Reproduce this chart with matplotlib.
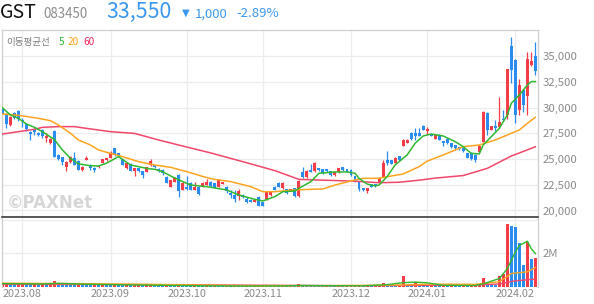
import matplotlib
matplotlib.use('Agg')
import matplotlib.pyplot as plt
import numpy as np

plt.rcParams['font.family'] = ['Noto Sans CJK KR', 'DejaVu Sans']

# ---------------- data ----------------
opens = [
    29900, 29300, 28300, 29500, 29700, 28850, 28400, 27650, 27800, 27550,
    27850, 27100, 26600, 27750, 25400, 25200, 24250, 24700, 25150, 24850,
    23900, 24950, 24450, 24150, 24200, 24650, 24900, 25150, 26050, 25550,
    25000, 24100, 24550, 23800, 24100, 23800, 23750, 24400, 24400, 24050,
    23950, 23300, 22300, 22800, 23500, 22000, 22300, 22700, 22000, 22300,
    22300, 22500, 22800, 22650, 22300, 22600, 22300, 21750, 21500, 21400,
    21500, 21100, 21050, 20850, 21350, 20800, 21100, 21500, 22300, 22650,
    22150, 22050, 21900, 22150, 21400, 23750, 23250, 23900, 23800, 24100,
    24000, 24000, 23800, 23450, 23700, 24200, 24000, 23950, 23350, 22800,
    22150, 21850, 22550, 22550, 22800, 23300, 24900, 24900, 24650, 25300,
    26300, 26600, 27550, 27500, 27550, 28250, 27750, 27400, 27000, 27350,
    26750, 27000, 26550, 26350, 26150, 26050, 25550, 25600, 25400, 25700,
    26700, 29450, 27850, 28200, 28150, 28950, 29300, 36000, 34650, 29750,
    31700, 31100, 34150, 35000]
highs = [
    30100, 29500, 29200, 29600, 29800, 29000, 28500, 27700, 28000, 27600,
    27900, 27500, 27050, 27800, 25450, 25250, 24800, 25300, 25700, 24900,
    24300, 25300, 24500, 24200, 24350, 25050, 25150, 25800, 26100, 25600,
    25050, 24650, 24600, 24150, 24150, 23850, 24250, 25000, 24450, 24100,
    24000, 23350, 23000, 23250, 23550, 22750, 23400, 22750, 22800, 22350,
    22750, 23100, 22850, 22700, 23100, 22800, 22350, 22000, 22000, 22050,
    21600, 21350, 21100, 21100, 21400, 20850, 21900, 21900, 22350, 22800,
    22750, 22100, 22100, 22200, 22950, 24250, 23900, 24550, 24750, 24150,
    24050, 24050, 23850, 23750, 24150, 24250, 24050, 24000, 23400, 22850,
    22200, 22200, 22600, 22600, 23250, 24900, 25800, 24950, 25200, 25350,
    26950, 26950, 27600, 28000, 28000, 28350, 28100, 27450, 27400, 27400,
    26800, 27050, 26600, 26400, 26200, 26100, 25600, 25650, 25450, 26350,
    29650, 29600, 28250, 28800, 31000, 29800, 33800, 36850, 34700, 32800,
    31750, 35400, 35450, 36400]
lows = [
    29250, 28000, 28200, 28900, 28700, 28150, 27700, 26900, 27300, 27200,
    27100, 26700, 26500, 25200, 24900, 24450, 23800, 24600, 24400, 23900,
    23850, 24900, 23900, 23750, 24150, 24600, 24850, 25100, 25300, 25300,
    24400, 24050, 23800, 23350, 23750, 23150, 23700, 24350, 24100, 23750,
    23500, 22650, 22250, 22750, 21350, 21950, 21950, 21950, 21950, 21550,
    22250, 22450, 22300, 22150, 22250, 22550, 21700, 21200, 20850, 21000,
    21250, 20750, 20800, 20800, 20400, 20400, 21050, 21450, 21950, 22250,
    22100, 21650, 21850, 21350, 21350, 23200, 23200, 23700, 23750, 23850,
    23550, 23750, 23400, 23400, 23650, 23850, 23700, 23400, 22750, 21900,
    21900, 21700, 22250, 22300, 22750, 23250, 24400, 24500, 24600, 24850,
    26250, 26550, 26900, 26900, 27200, 27800, 27450, 27200, 26950, 26850,
    26300, 26500, 26100, 26000, 25900, 25700, 25100, 24950, 24750, 25650,
    26650, 27300, 27800, 27750, 28100, 28750, 28950, 32400, 28500, 29300,
    29600, 29300, 34100, 33200]
closes = [
    29350, 28400, 29100, 29000, 28950, 28700, 27900, 27450, 27600, 27300,
    27250, 27250, 27000, 25250, 25000, 24750, 24750, 25200, 24450, 23950,
    24250, 25100, 24100, 23950, 24300, 25000, 25100, 25600, 25400, 25400,
    24450, 24600, 23850, 24100, 23800, 23500, 24200, 24800, 24200, 23800,
    23600, 22700, 22950, 23200, 21850, 22700, 22050, 22000, 22300, 21600,
    22700, 22800, 22350, 22200, 22950, 22750, 21850, 21500, 21100, 21900,
    21300, 20800, 20850, 21050, 20450, 20450, 21850, 21850, 22000, 22300,
    22700, 21700, 22050, 21400, 22900, 23250, 23850, 23750, 24650, 23900,
    23600, 23800, 23450, 23700, 24100, 23900, 23750, 23450, 22800, 22050,
    21950, 22150, 22300, 22350, 23200, 24650, 24650, 24550, 25150, 24900,
    26900, 26900, 26950, 27200, 27250, 27850, 27950, 27250, 27350, 26900,
    26600, 26550, 26150, 26050, 25950, 25750, 25150, 25000, 24950, 26300,
    29600, 27850, 28200, 28000, 28650, 28800, 33750, 33650, 29300, 32200,
    30250, 34700, 34550, 33550]
volumes_k = [
    180, 250, 200, 160, 170, 200, 180, 150, 160, 140, 170, 150, 160, 350,
    200, 180, 170, 160, 150, 160, 140, 130, 120, 140, 130, 150, 140,
    130, 150, 120, 100, 110, 90, 100, 110, 90, 100, 120, 100, 90, 80, 110,
    90, 80, 120, 90,
    80, 70, 80, 70, 60, 70, 60, 80, 70, 60, 70, 60, 70, 60, 50, 60, 50, 60, 70,
    70, 80, 60, 70, 60, 70, 60, 70, 60, 150, 120, 100, 90, 80, 70, 60, 70, 60,
    50, 60, 50, 60,
    60, 70, 80, 60, 70, 60, 80, 100, 250, 150, 100, 80, 90, 650, 200, 150,
    300, 150, 120,
    110, 130, 100, 90, 100, 80, 90, 80, 70, 80, 70, 90, 100, 120, 550, 250,
    150, 140, 650, 750, 3720, 3600,
    3540, 2600, 1300, 2650, 1650, 1740]

# moving averages (candle index, value)
ma5_idx = [0, 2, 4, 6, 8, 10, 13, 15, 17, 19, 22, 24, 26, 29, 32, 36, 38, 40,
           42, 45, 47, 51, 56, 59, 63, 65, 68, 70, 73, 74, 77, 79, 83, 86, 88,
           89, 91, 93, 94, 96, 98, 101, 103, 105, 107, 110, 113, 115, 117, 119,
           120, 122, 124, 126, 127, 129, 131, 132, 133]
ma5_val = [30000, 29300, 28970, 28420, 28100, 27670, 26900, 25890, 25080,
           24530, 24360, 24330, 24600, 25240, 24430, 24100, 24005, 23780,
           23360, 22810, 22480, 22320, 22000, 21510, 21090, 20930, 21350,
           21830, 21900, 22160, 22810, 23620, 23750, 23750, 23620, 23130,
           22580, 22390, 22480, 23290, 24430, 25400, 26540, 27250, 27440,
           27250, 26700, 26210, 25560, 25500, 26380, 27180, 27990, 29290,
           30430, 31240, 32210, 32540, 32550]
ma20_idx = [0, 4, 9, 12, 14, 17, 19, 22, 24, 27, 30, 34, 38, 42, 46, 51, 53,
            57, 62, 65, 68, 73, 77, 80, 83, 88, 90, 94, 96, 100, 104, 106, 108,
            111, 115, 119, 123, 127, 129, 131, 133]
ma20_val = [29390, 29260, 28970, 28740, 28320, 27510, 26860, 26370, 25890,
            25560, 25240, 24750, 24430, 24200, 23780, 23200, 23030, 22810,
            22320, 21830, 21830, 22000, 22060, 22100, 22480, 22970, 23130,
            23130, 23290, 23550, 24270, 24800, 25100, 25560, 26210, 26370,
            26860, 27510, 27830, 28480, 29070]
ma60_idx = [0, 4, 8, 10, 14, 18, 21, 24, 27, 33, 39, 44, 52, 60, 68, 74, 80,
            88, 94, 99, 104, 108, 115, 121, 127, 133]
ma60_val = [27440, 27670, 27900, 28090, 28160, 28160, 27990, 27830, 27670,
            27500, 26860, 26370, 25600, 24750, 23880, 23030, 22950, 22850,
            22700, 22750, 22950, 23150, 23400, 24100, 25300, 26200]

vma5_idx = [0, 10, 14, 20, 30, 40, 50, 60, 70, 75, 80, 90, 96, 100, 103, 106,
            110, 118, 120, 124, 126, 128, 129, 131, 132, 133]
vma5_val = [200, 180, 220, 170, 130, 100, 70, 60, 65, 90, 80, 70, 140, 260,
            290, 250, 100, 90, 190, 500, 1090, 2070, 2460, 2720, 2270, 1980]
vma20_idx = [0, 20, 40, 60, 80, 100, 106, 118, 124, 127, 131, 133]
vma20_val = [230, 200, 150, 80, 80, 120, 170, 160, 310, 800, 900, 1160]
vma60_idx = [0, 30, 60, 90, 110, 120, 124, 128, 133]
vma60_val = [160, 150, 110, 75, 110, 140, 180, 370, 470]

month_idx = [5, 27, 46, 65, 87, 106, 128]
month_labels = ['2023.08', '2023.09', '2023.10', '2023.11', '2023.12',
                '2024.01', '2024.02']
price_ticks = [20000, 22500, 25000, 27500, 30000, 32500, 35000]

# ---------------- style ----------------
RED = '#f23c47'
BLUE = '#2b8cf0'
G5 = '#2fb82f'
O20 = '#ffa41f'
R60 = '#f0476a'
GRID = '#ececec'
TXT = '#8a8a8a'

W, H = 594, 304
fig = plt.figure(figsize=(W / 100, H / 100), dpi=100)
fig.patch.set_facecolor('white')


def fx(px):
    return px / W


def fy(py):
    return 1 - py / H


L, R = 2, 538
axp = fig.add_axes([fx(L), fy(217), fx(R) - fx(L), fy(30) - fy(217)])
axv = fig.add_axes([fx(L), fy(287), fx(R) - fx(L), fy(218) - fy(287)])

o = np.array(opens, float)
c = np.array(closes, float)
h = np.array(highs, float)
lo = np.array(lows, float)
x = np.arange(len(c))
col = np.where(c >= o, RED, BLUE)

xl = (-0.08, 133.66)

# price panel
for t in price_ticks:
    axp.axhline(t, color=GRID, lw=0.9, zorder=0)
for m in month_idx:
    axp.axvline(m, color=GRID, lw=0.9, zorder=0)
axp.vlines(x, lo, h, colors=col, lw=0.9, zorder=2)
body_b = np.minimum(o, c)
body_h = np.maximum(np.abs(c - o), 60)
axp.bar(x, body_h, bottom=body_b, width=0.74, color=col, linewidth=0, zorder=3)
axp.plot(ma60_idx, ma60_val, color=R60, lw=1.1, zorder=4)
axp.plot(ma20_idx, ma20_val, color=O20, lw=1.1, zorder=4)
axp.plot(ma5_idx, ma5_val, color=G5, lw=1.1, zorder=5)
axp.set_xlim(*xl)
axp.set_ylim(19367, 37562)
axp.set_xticks([])
axp.yaxis.tick_right()
axp.set_yticks(price_ticks)
axp.set_yticklabels([f'{t:,}' for t in price_ticks])
axp.tick_params(axis='y', length=0, pad=3.0, labelsize=8.2, labelcolor=TXT)
for s in ['top', 'left', 'right']:
    axp.spines[s].set_color('#cfcfcf')
    axp.spines[s].set_linewidth(0.9)
axp.spines['bottom'].set_color('#3a3a3a')
axp.spines['bottom'].set_linewidth(1.2)

# watermark
axp.text(0.008, 0.025, '©PAXNet', transform=axp.transAxes, fontsize=12,
         fontweight='bold', color='#d6d6d6', ha='left', va='bottom', zorder=1,
         family=['DejaVu Sans'])

# volume panel
v = np.array(volumes_k, float) * 1000
vcol = [RED] + [RED if v[i] >= v[i - 1] else BLUE for i in range(1, len(v))]
for t in [2e6, 4e6]:
    axv.axhline(t, color=GRID, lw=0.9, zorder=0)
for m in month_idx:
    axv.axvline(m, color=GRID, lw=0.9, zorder=0)
axv.bar(x, v, width=0.74, color=vcol, linewidth=0, zorder=2)
axv.plot(vma60_idx, np.array(vma60_val) * 1000, color=R60, lw=1.0, zorder=3)
axv.plot(vma20_idx, np.array(vma20_val) * 1000, color=O20, lw=1.0, zorder=3)
axv.plot(vma5_idx, np.array(vma5_val) * 1000, color=G5, lw=1.0, zorder=4)
axv.set_xlim(*xl)
axv.set_ylim(0, 4.095e6)
axv.yaxis.tick_right()
axv.set_yticks([2e6])
axv.set_yticklabels(['2M'])
axv.tick_params(axis='y', length=0, pad=3.0, labelsize=8.2, labelcolor=TXT)
axv.set_xticks(month_idx)
axv.set_xticklabels(month_labels)
axv.tick_params(axis='x', length=0, pad=1.6, labelsize=7.8, labelcolor=TXT)
for s in ['left', 'right']:
    axv.spines[s].set_color('#cfcfcf')
    axv.spines[s].set_linewidth(0.9)
axv.spines['top'].set_visible(False)
axv.spines['bottom'].set_visible(False)

# header
fig.text(fx(0), fy(17.5), 'GST', fontsize=14, color='#111111',
         ha='left', va='baseline', fontweight='medium')
fig.text(fx(43), fy(17.5), '083450', fontsize=9.6, color='#8c8c8c',
         ha='left', va='baseline')
fig.text(fx(106), fy(17.8), '33,550', fontsize=15.3, color='#3a97ef',
         ha='left', va='baseline')
fig.text(fx(182), fy(15.5), '▼', fontsize=7.2, color='#3a97ef',
         ha='left', va='baseline', family=['DejaVu Sans'])
fig.text(fx(195), fy(17.3), '1,000', fontsize=9.5, color='#3a97ef',
         ha='left', va='baseline')
fig.text(fx(236), fy(17.3), '-2.89%', fontsize=9.5, color='#3a97ef',
         ha='left', va='baseline')

# MA legend
fig.text(fx(6.5), fy(45), '이동평균선', fontsize=6.9, color='#7d7d7d',
         ha='left', va='baseline')
fig.text(fx(59), fy(45), '5', fontsize=7.3, color=G5, ha='left', va='baseline')
fig.text(fx(68), fy(45), '20', fontsize=7.3, color=O20, ha='left', va='baseline')
fig.text(fx(83), fy(45), '60', fontsize=7.3, color='#f0245a', ha='left',
         va='baseline')

fig.savefig('out.png', dpi=100, facecolor='white')
